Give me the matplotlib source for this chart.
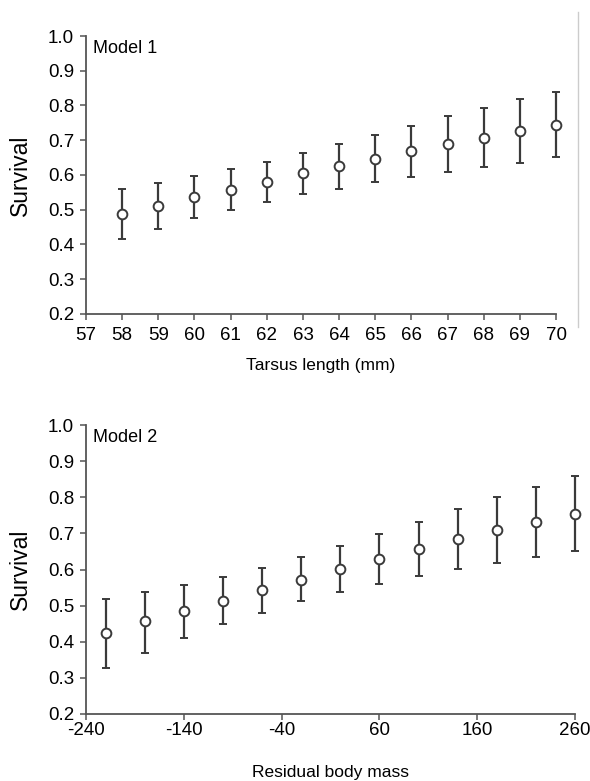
import numpy as np
import matplotlib
matplotlib.use("Agg")
import matplotlib.pyplot as plt
from matplotlib.lines import Line2D

plt.rcParams['font.family'] = ['Liberation Sans', 'DejaVu Sans']
plt.rcParams['axes.unicode_minus'] = False

# Model 1: tarsus length
tarsus = [58, 59, 60, 61, 62, 63, 64, 65, 66, 67, 68, 69, 70]
surv1 = [0.488, 0.511, 0.537, 0.557, 0.580, 0.606, 0.626, 0.646, 0.669, 0.689, 0.707, 0.727, 0.744]
low1 = [0.416, 0.445, 0.476, 0.499, 0.522, 0.545, 0.560, 0.580, 0.594, 0.608, 0.623, 0.635, 0.652]
high1 = [0.560, 0.577, 0.597, 0.617, 0.637, 0.663, 0.689, 0.715, 0.741, 0.770, 0.793, 0.819, 0.839]
xticks1 = list(range(57, 71))

# Model 2: residual body mass
mass = [-220, -180, -140, -100, -60, -20, 20, 60, 100, 140, 180, 220, 260]
surv2 = [0.424, 0.457, 0.484, 0.513, 0.544, 0.572, 0.602, 0.630, 0.657, 0.684, 0.709, 0.731, 0.754]
low2 = [0.328, 0.370, 0.410, 0.449, 0.480, 0.513, 0.538, 0.560, 0.582, 0.601, 0.618, 0.635, 0.651]
high2 = [0.518, 0.538, 0.557, 0.579, 0.604, 0.635, 0.665, 0.698, 0.731, 0.767, 0.800, 0.828, 0.859]
xticks2 = [-240, -140, -40, 60, 160, 260]

yticks = [0.2, 0.3, 0.4, 0.5, 0.6, 0.7, 0.8, 0.9, 1.0]

axis_col = "#555555"
bar_col = "#3a3a3a"

fig = plt.figure(figsize=(5.9, 7.81), dpi=100)
ax1 = fig.add_axes([0.1458, 0.5980, 0.9424 - 0.1458, 0.9539 - 0.5980])
ax2 = fig.add_axes([0.1458, 0.0858, 0.9746 - 0.1458, 0.4558 - 0.0858])


def draw(ax, x, y, lo, hi, xt, xlim, xlabel, name, xpad, lblx):
    y = np.array(y)
    err = [y - np.array(lo), np.array(hi) - y]
    cont = ax.errorbar(x, y, yerr=err, fmt='o', color=bar_col, ecolor=bar_col,
                       elinewidth=1.6, capsize=3, capthick=1.6,
                       markersize=7, markerfacecolor='white',
                       markeredgecolor=bar_col, markeredgewidth=1.4)
    for art in cont.get_children():
        art.set_clip_on(False)
    ax.set_xlim(*xlim)
    ax.set_ylim(0.2, 1.0)
    ax.set_xticks(xt)
    ax.set_yticks(yticks)
    ax.set_yticklabels(["%.1f" % v for v in yticks])
    for s in ['top', 'right']:
        ax.spines[s].set_visible(False)
    for s in ['left', 'bottom']:
        ax.spines[s].set_color(axis_col)
        ax.spines[s].set_linewidth(1.3)
    ax.tick_params(axis='both', direction='out', length=4.5, width=1.1,
                   color=axis_col, labelsize=13.5)
    ax.tick_params(axis='x', pad=xpad)
    ax.tick_params(axis='y', pad=4)
    ax.set_ylabel("Survival", fontsize=16.5)
    ax.yaxis.set_label_coords(lblx, 0.5)
    ax.set_xlabel(xlabel, fontsize=12.5)
    ax.text(0.015, 0.985, name, transform=ax.transAxes, fontsize=13,
            ha='left', va='top')


draw(ax1, tarsus, surv1, low1, high1, xticks1, (57, 70),
     "Tarsus length (mm)", "Model 1", 5, -0.115)
draw(ax2, mass, surv2, low2, high2, xticks2, (-240, 260),
     "Residual body mass", "Model 2", 1, -0.11)
ax1.xaxis.labelpad = 10
ax2.xaxis.labelpad = 19

# faint border line on the right of the upper panel (scan edge)
fig.add_artist(Line2D([578 / 590, 578 / 590], [1 - 12 / 781, 1 - 327 / 781],
                      transform=fig.transFigure, color="#cccccc", lw=1))

fig.savefig("out.png", dpi=100)
